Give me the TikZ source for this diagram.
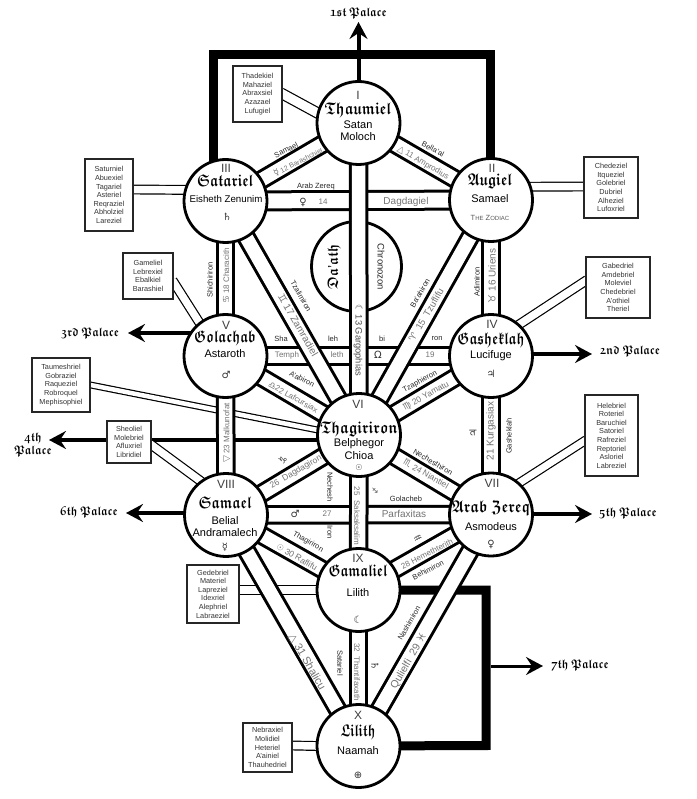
\documentclass[tikz,border=0pt]{standalone}
\usepackage{fontspec}
\setmainfont{Liberation Sans}
\newfontfamily\astro{DejaVu Sans}
\usepackage{amsfonts}
\usetikzlibrary{arrows.meta,backgrounds}
\newcommand{\gothname}[3][1.7]{\scalebox{#2}[#1]{\boldmath$\mathfrak{#3}$}}

\begin{document}
\begin{tikzpicture}[x=1pt, y=-1pt]
% Styles
\tikzstyle{sphere} = [circle, draw, line width=2.8pt, fill=white, minimum size=83pt, inner sep=0pt]
\tikzstyle{namebox} = [rectangle, draw=black!85, line width=1.2pt, fill=white, inner sep=0pt, align=center, font=\fontsize{7.3}{8.6}\selectfont, text=black!80]
\tikzstyle{channel} = [line width=3pt, double=white, double distance=13.5pt]
\tikzstyle{widechannel} = [line width=3pt, double=white, double distance=15pt]
\tikzstyle{link} = [line width=1.2pt, double=white, double distance=7.5pt, shorten >=-3pt, shorten <=-2pt]
\tikzstyle{palace} = [line width=4pt, -{Stealth[length=17pt, width=18pt, inset=6pt]}]
\tikzstyle{frame} = [line width=9pt, line join=miter]
\tikzstyle{numeral} = [font=\fontsize{12}{12}\selectfont, text=black!75, inner sep=0pt]
\tikzstyle{title} = [inner sep=0pt]
\tikzstyle{demon} = [font=\fontsize{11}{11}\selectfont, inner sep=0pt]
\tikzstyle{sign} = [font=\astro\fontsize{10}{10}\selectfont, text=black!80, inner sep=0pt]
\tikzstyle{tag} = [font=\fontsize{7.5}{7.5}\selectfont, text=black!85, inner sep=0pt]
\tikzstyle{pathname} = [font=\fontsize{8}{8}\selectfont, text=black!55, inner sep=0pt]
\tikzstyle{bigname} = [font=\fontsize{10}{10}\selectfont, text=black!55, inner sep=0pt]
\tikzstyle{palacename} = [inner sep=0pt, align=center]

\useasboundingbox (0,0) rectangle (696,799);

% Spheres
\node (thaumiel) [sphere] at (358.5,123) {};
\node (satariel) [sphere] at (225.5,201) {};
\node (augiel) [sphere] at (491,200) {};
\node (golachab) [sphere] at (225.5,356) {};
\node (gasheklah) [sphere] at (491,356) {};
\node (thagiriron) [sphere] at (359,435) {};
\node (samael) [sphere] at (226,515) {};
\node (arabzereq) [sphere] at (491,514.5) {};
\node (gamaliel) [sphere] at (358.5,590) {};
\node (lilith) [sphere] at (358.5,746) {};

% Boxes
\node (boxI) [namebox, minimum width=49pt, minimum height=56pt] at (257.5,94) {Thadekiel\\Mahaziel\\Abraxsiel\\Azazael\\Lufugiel};
\node (boxIII) [namebox, minimum width=48pt, minimum height=72pt] at (109,195) {Saturniel\\Abuexiel\\Tagariel\\Asteriel\\Reqraziel\\Abholziel\\Lareziel};
\node (boxII) [namebox, minimum width=54pt, minimum height=61pt] at (611,187.5) {Chedeziel\\Itqueziel\\Golebriel\\Dubriel\\Alheziel\\Lufoxriel};
\node (boxV) [namebox, minimum width=50pt, minimum height=46pt] at (148,276) {Gameliel\\Lebrexiel\\Ebalkiel\\Barashiel};
\node (boxIV) [namebox, minimum width=64pt, minimum height=61pt] at (618,287.5) {Gabedriel\\Amdebriel\\Moleviel\\Chedebriel\\A'othiel\\Theriel};
\node (boxVI) [namebox, minimum width=58pt, minimum height=54pt] at (61,385) {Taumeshriel\\Gobraziel\\Raqueziel\\Robroquel\\Mephisophiel};
\node (boxVIII) [namebox, minimum width=44pt, minimum height=42pt] at (129,442) {Sheoliel\\Molebriel\\Afluxriel\\Libridiel};
\node (boxVII) [namebox, minimum width=53pt, minimum height=81pt] at (611.5,435.5) {Helebriel\\Roteriel\\Baruchiel\\Satoriel\\Rafreziel\\Reptoriel\\Asloriel\\Labreziel};
\node (boxIX) [namebox, minimum width=52pt, minimum height=58pt] at (213,594) {Gedebriel\\Materiel\\Lapreziel\\Idexriel\\Alephriel\\Labraeziel};
\node (boxX) [namebox, minimum width=49pt, minimum height=49pt] at (267.5,747.5) {Nebraxiel\\Molidiel\\Heteriel\\A'ainiel\\Thauhedriel};

% Frame corners and arrow ends
\coordinate (frameA) at (213.5,180);
\coordinate (frameB) at (213.5,54.5);
\coordinate (frameC) at (490.5,54.5);
\coordinate (frameD) at (490.5,180);
\coordinate (frameE) at (486,590);
\coordinate (frameF) at (486,745.5);
\coordinate (frameG) at (491,666);
\coordinate (tipI) at (358.5,22);
\coordinate (tipII) at (592,354);
\coordinate (tipIII) at (128,333);
\coordinate (tipIV) at (49,440);
\coordinate (tipV) at (592,514);
\coordinate (tipVI) at (126,513);
\coordinate (tipVII) at (543,666);

\begin{pgfonlayer}{background}
% Palace arrows and frames
\draw [frame] (frameA) -- (frameB) -- (frameC) -- (frameD);
\draw [frame] (gamaliel.center) -- (frameE) -- (frameF) -- (lilith.center);
\draw [palace] (thaumiel.center) -- (tipI);
\draw [palace] (gasheklah.center |- tipII) -- (tipII);
\draw [palace] (golachab.center |- tipIII) -- (tipIII);
\draw [palace] (thagiriron.center |- tipIV) -- (tipIV);
\draw [palace] (arabzereq.center |- tipV) -- (tipV);
\draw [palace] (samael.center |- tipVI) -- (tipVI);
\draw [palace, line width=3pt] (frameG) -- (tipVII);

% Links from the boxes
\draw [link, double distance=9pt] (boxI.east) -- (thaumiel.166);
\draw [link] ([yshift=5.5pt]boxIII.east) -- (satariel.165);
\draw [link] ([yshift=1pt]boxII.west) -- (augiel.18);
\draw [link] ([yshift=-6pt]boxV.east) -- (golachab.128);
\draw [link] ([yshift=6.5pt]boxIV.west) -- (gasheklah.48);
\draw [link, double distance=4.5pt] (boxVI.east) -- (thagiriron.173);
\draw [link] ([yshift=-3pt]boxVIII.east) -- (samael.127);
\draw [link, double distance=7pt] ([yshift=-5.5pt]boxVII.west) -- (arabzereq.48);
\draw [link] ([yshift=4pt]boxIX.east) -- (gamaliel.180);
\draw [link] ([yshift=2pt]boxX.east) -- (lilith.180);

% Da'ath
\node (daath) [circle, draw, line width=2.8pt, fill=white, minimum size=90pt, inner sep=0pt] at (356.5,266.5) {};

% Channels
\draw [widechannel] (satariel.center) -- (augiel.center);
\draw [channel] (golachab.center) -- (gasheklah.center);
\draw [channel] (samael.center) -- (arabzereq.center);
\draw [channel] (thaumiel.center) -- (satariel.center);
\draw [channel] (thaumiel.center) -- (augiel.center);
\draw [channel] (thaumiel.center) -- (thagiriron.center);
\draw [channel] (satariel.center) -- (thagiriron.center);
\draw [channel] (augiel.center) -- (thagiriron.center);
\draw [channel] (satariel.center) -- (golachab.center);
\draw [channel] (augiel.center) -- (gasheklah.center);
\draw [channel] (golachab.center) -- (thagiriron.center);
\draw [channel] (gasheklah.center) -- (thagiriron.center);
\draw [channel] (golachab.center) -- (samael.center);
\draw [channel] (gasheklah.center) -- (arabzereq.center);
\draw [channel] (thagiriron.center) -- (samael.center);
\draw [channel] (thagiriron.center) -- (arabzereq.center);
\draw [channel] (thagiriron.center) -- (gamaliel.center);
\draw [channel] (samael.center) -- (gamaliel.center);
\draw [channel] (arabzereq.center) -- (gamaliel.center);
\draw [channel] (samael.center) -- (lilith.center);
\draw [channel] (arabzereq.center) -- (lilith.center);
\draw [channel] (gamaliel.center) -- (lilith.center);
\end{pgfonlayer}

% Palace names
\node (palI) [palacename] at (358.5,13) {\gothname[1.25]{1.08}{1st\ Palace}};
\node (palII) [palacename] at (630,351) {\gothname[1.25]{1.08}{2nd\ Palace}};
\node (palIII) [palacename] at (90,333) {\gothname[1.25]{1.08}{3rd\ Palace}};
\node (palIV) [palacename] at (33,445) {\gothname[1.25]{1.08}{4th}\\[1pt]\gothname[1.25]{1.08}{Palace}};
\node (palV) [palacename] at (628,513) {\gothname[1.25]{1.08}{5th\ Palace}};
\node (palVI) [palacename] at (89,512) {\gothname[1.25]{1.08}{6th\ Palace}};
\node (palVII) [palacename] at (580,665) {\gothname[1.25]{1.08}{7th\ Palace}};

% Sphere texts
\node (numI) [numeral] at (358,95) {I};
\node (nameI) [title] at (358,110) {\gothname{1.43}{Thaumiel}};
\node (demonIa) [demon] at (358,125) {Satan};
\node (demonIb) [demon] at (358,137) {Moloch};

\node (numIII) [numeral] at (226,168) {III};
\node (nameIII) [title] at (225,181) {\gothname{1.35}{Satariel}};
\node (demonIII) [demon, font=\fontsize{9.7}{9.7}\selectfont] at (226,199) {Eisheth Zenunim};
\node (signIII) [sign] at (227,217) {♄};

\node (numII) [numeral] at (492,168) {II};
\node (nameII) [title] at (490,181) {\gothname{1.4}{Augiel}};
\node (demonII) [demon] at (490,199) {Samael};
\node (zodiac) [tag, text=black!65] at (490,218) {T{\fontsize{6}{6}\selectfont HE} Z{\fontsize{6}{6}\selectfont ODIAC}};

\node (numV) [numeral] at (226,325) {V};
\node (nameV) [title] at (225,338) {\gothname{1.3}{Golachab}};
\node (demonV) [demon] at (225,354) {Astaroth};
\node (signV) [sign] at (226,375) {♂};

\node (numIV) [numeral] at (492,324) {IV};
\node (nameIV) [title] at (491,340) {\gothname{1.3}{Gasheklah}};
\node (demonIV) [demon] at (491,356) {Lucifuge};
\node (signIV) [sign] at (491,374) {♃};

\node (numVI) [numeral] at (358,404) {VI};
\node (nameVI) [title] at (359,429) {\gothname{1.43}{Thagiriron}};
\node (demonVIa) [demon] at (359,444) {Belphegor};
\node (demonVIb) [demon] at (359,456) {Chioa};
\node (signVI) [sign, font=\astro\fontsize{8}{8}\selectfont] at (359,468) {☉};

\node (numVIII) [numeral] at (226,484) {VIII};
\node (nameVIII) [title] at (225,503) {\gothname{1.36}{Samael}};
\node (demonVIIIa) [demon] at (225,521) {Belial};
\node (demonVIIIb) [demon] at (225,533) {Andramalech};
\node (signVIII) [sign] at (225,547) {☿};

\node (numVII) [numeral] at (492,483) {VII};
\node (nameVII) [title] at (491,508) {\gothname{1.43}{Arab\ Zereq}};
\node (demonVII) [demon] at (491,527) {Asmodeus};
\node (signVII) [sign] at (491,544) {♀};

\node (numIX) [numeral] at (358,558) {IX};
\node (nameIX) [title] at (358,571) {\gothname{1.3}{Gamaliel}};
\node (demonIX) [demon] at (358,593) {Lilith};
\node (signIX) [sign] at (358,620) {☾};

\node (numX) [numeral] at (358,715) {X};
\node (nameX) [title] at (358,732) {\gothname{1.25}{Lilith}};
\node (demonX) [demon] at (358,751) {Naamah};
\node (signX) [sign] at (358,775) {⊕};

% Da'ath texts
\node (nameD) [title, rotate=90] at (334,267) {\gothname[1.5]{1.3}{Da}\scalebox{1.4}{'}\gothname[1.5]{1.3}{ath}};
\node (demonD) [tag, font=\fontsize{9.5}{9.5}\selectfont, rotate=-90] at (381,267) {Chronozon};

% Channel texts
\node (tag12) [tag, rotate=27] at (286,150) {Samael};
\node (txt12) [pathname, rotate=27, font=\fontsize{7}{7}\selectfont] at (298,162) {{\astro\fontsize{9}{9}\selectfont ☿} 12 Barashchiel};
\node (tag11) [tag, rotate=-28] at (433,149) {Bella'al};
\node (txt11) [pathname, rotate=-30] at (423,163) {{\astro\fontsize{9}{9}\selectfont △} 11 Amprodius};
\node (tag14) [tag] at (316,187) {Arab Zereq};
\node (sign14) [sign] at (303,202) {♀};
\node (txt14) [pathname] at (323,202) {14};
\node (big14) [bigname] at (406,202) {Dagdagiel};
\node (txt13) [pathname, rotate=-90, font=\fontsize{9.3}{9.3}\selectfont, text=black!70] at (358,340) {{\astro ☾} 13 Gargophias};
\node (tag15) [tag, rotate=60] at (420,293) {Ba'ahiron};
\node (txt15) [bigname, rotate=60, font=\fontsize{9.5}{9.5}\selectfont] at (426,315) {{\astro ♈}\ \ 15\ \ Tzuflifu};
\node (tag17) [tag, rotate=-60] at (301,296) {Tzalimiron};
\node (txt17) [bigname, rotate=-60] at (298,325) {{\astro ♊} 17 Zamradiel};
\node (tag18) [tag, rotate=90] at (210,280) {Shichiriron};
\node (txt18) [pathname, rotate=90] at (226,276) {{\astro\fontsize{9}{9}\selectfont ♋} 18 Characith};
\node (tag16) [tag, rotate=90] at (477,282) {Adimiron};
\node (txt16) [bigname, rotate=90] at (492,276) {{\astro ♉} 16 Uriens};
\node (tagA19) [tag] at (281,339) {Sha};
\node (txtA19) [pathname] at (287,355) {Temph};
\node (tagB19) [tag] at (333,339) {leh};
\node (txtB19) [pathname] at (337,355) {leth};
\node (tagC19) [tag] at (382,339) {bi};
\node (sign19) [sign] at (378,355) {Ω};
\node (tagD19) [tag] at (437,339) {ron};
\node (txt19) [pathname] at (430,355) {19};
\node (tag22) [tag, rotate=-27] at (302,379) {A'abiron};
\node (txt22) [pathname, rotate=-29] at (293,397) {{\astro\fontsize{9}{9}\selectfont ♎}22 Lafcursiax};
\node (tag20) [tag, rotate=28] at (420,382) {Tzaphieron};
\node (txt20) [pathname, rotate=29, font=\fontsize{8.5}{8.5}\selectfont] at (426,396) {{\astro\fontsize{9}{9}\selectfont ♍} 20 Yamatu};
\node (txt23) [pathname, rotate=90] at (227,433) {{\astro\fontsize{9}{9}\selectfont ▽} 23 Malkunofat};
\node (txt21) [bigname, rotate=90] at (491,431) {21 Kurgasiax};
\node (sign21) [sign, rotate=90] at (473,433) {♃};
\node (tag21) [tag, rotate=90] at (509,436) {Gasheklah};
\node (sign26) [sign, rotate=30] at (283,460) {♑};
\node (txt26) [pathname, rotate=30, font=\fontsize{8.5}{8.5}\selectfont] at (296,472) {26\ \ Dagdagiron};
\node (tag24) [tag, rotate=-30] at (433,462) {Nechesthiron};
\node (txt24) [pathname, rotate=-30, font=\fontsize{8.5}{8.5}\selectfont] at (426,474) {{\astro\fontsize{9}{9}\selectfont ♏} 24 Niantiel};
\node (txt25) [pathname, rotate=-90] at (357,516) {25\ \ Saksaksalim};
\node (tagA25) [tag, rotate=-90] at (330,487) {Nechesh};
\node (tagB25) [tag, rotate=-90] at (330,532) {Iron};
\node (sign25) [sign, font=\astro\fontsize{7}{7}\selectfont, rotate=-90] at (375,491) {♐};
\node (tag27) [tag] at (406,499) {Golacheb};
\node (sign27) [sign] at (295,514) {♂};
\node (txt27) [pathname] at (327,514) {27};
\node (big27) [bigname] at (404,514) {Parfaxitas};
\node (tag30) [tag, rotate=-30] at (308,542) {Thagiriron};
\node (txt30) [pathname, rotate=-30, font=\fontsize{8.5}{8.5}\selectfont] at (297,557) {{\astro\fontsize{8}{8}\selectfont ☉}\ 30 Raflifu};
\node (sign28) [sign, rotate=27] at (418,539) {♒};
\node (txt28) [pathname, rotate=27] at (427,554) {28 Hemethterith};
\node (tag28) [tag, rotate=27] at (428,570) {Behimiron};
\node (tag29) [tag, rotate=60] at (409,623) {Nashimiron};
\node (txt29) [bigname, rotate=60, font=\fontsize{10.5}{10.5}\selectfont] at (409,661) {Qulielfi\ \ 29\ {\astro ♓}};
\node (txt31) [bigname, rotate=-60, font=\fontsize{11}{11}\selectfont] at (307,662) {{\astro △} 31 Shalicu};
\node (txt32) [pathname, rotate=-90] at (357,672) {32\ \ Thantifaxath};
\node (tag32) [tag, rotate=-90] at (340,663) {Satariel};
\node (sign32) [sign, rotate=-90] at (375,666) {♄};

\end{tikzpicture}
\end{document}
